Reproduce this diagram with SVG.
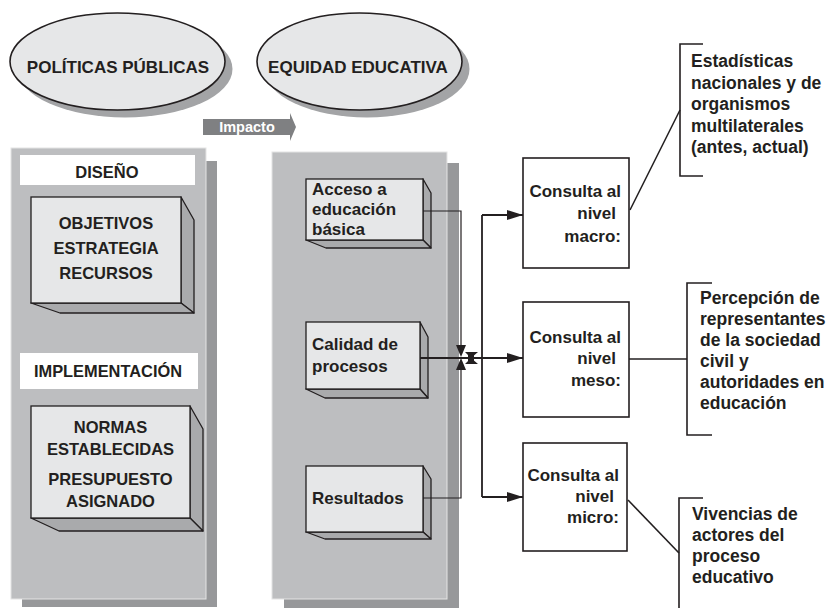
<svg xmlns="http://www.w3.org/2000/svg" width="826" height="608" viewBox="0 0 826 608">
<defs>
<style>
text{font-family:"Liberation Sans",Arial,sans-serif;font-weight:bold;fill:#231f20;}
.t16{font-size:16.5px;}
.t17{font-size:17px;}
.t175{font-size:17.5px;}
.c{text-anchor:middle;}
.r{text-anchor:end;}
.panel{fill:#bdbec0;stroke:#e4e4e4;stroke-width:1;}
.pshadow{fill:#97989a;}
.front{fill:#e6e7e8;stroke:#231f20;stroke-width:1.3;}
.side{fill:#a9aaac;stroke:#231f20;stroke-width:1.3;stroke-linejoin:round;}
.label{fill:#ffffff;}
.ell{fill:#e6e7e8;stroke:#231f20;stroke-width:1.6;}
.eshadow{fill:#a3a4a6;}
.box{fill:#ffffff;stroke:#231f20;stroke-width:1.6;}
.ln{fill:none;stroke:#231f20;stroke-width:1.2;}
.ln2{fill:none;stroke:#231f20;stroke-width:1.8;}
.br{fill:none;stroke:#231f20;stroke-width:1.6;}
.ah{fill:#231f20;}
</style>
<marker id="arr" markerUnits="userSpaceOnUse" markerWidth="16" markerHeight="10" refX="16" refY="5" orient="auto">
<path d="M0,0 L16,5 L0,10 z" fill="#231f20"/>
</marker>
</defs>

<g id="politicas">
<ellipse class="eshadow" cx="125" cy="69" rx="107.5" ry="48.5"/>
<ellipse class="ell" cx="117.5" cy="61.5" rx="107.5" ry="48.5"/>
<text class="t17 c" x="118" y="73">POLÍTICAS PÚBLICAS</text>
</g>

<g id="equidad">
<ellipse class="eshadow" cx="367" cy="69" rx="102.5" ry="48.5"/>
<ellipse class="ell" cx="359.5" cy="61.5" rx="102.5" ry="48.5"/>
<text class="t17 c" x="358" y="73">EQUIDAD EDUCATIVA</text>
</g>

<g id="impacto">
<path d="M203,119 L290,119 L290,113 L296,127 L290,141 L290,135 L203,135 z" fill="#7f8082"/>
<text x="247" y="132" style="font-size:14.5px;fill:#ffffff" class="c">Impacto</text>
</g>

<g id="panel-politicas">
<rect class="pshadow" x="22" y="161" width="195" height="446"/>
<rect class="panel" x="11" y="148" width="195" height="451"/>
</g>

<g id="diseno">
<rect class="label" x="20" y="155" width="175" height="30"/>
<text class="c" style="font-size:16.5px" x="107" y="178">DISEÑO</text>
</g>

<g id="objetivos">
<polygon class="side" points="181,197 194,220 194,313 181,303"/>
<polygon class="side" points="31,303 60,313 194,313 181,303"/>
<rect class="front" x="31" y="197" width="150" height="106"/>
<text class="t16 c" x="106" y="229">OBJETIVOS</text>
<text class="t16 c" x="106" y="254">ESTRATEGIA</text>
<text class="t16 c" x="106" y="279">RECURSOS</text>
</g>

<g id="implementacion">
<rect class="label" x="20" y="353" width="178" height="36"/>
<text class="c" style="font-size:16.4px" x="108" y="377">IMPLEMENTACIÓN</text>
</g>

<g id="normas">
<polygon class="side" points="190,406 203,429 203,531 190,518"/>
<polygon class="side" points="31,518 59,531 203,531 190,518"/>
<rect class="front" x="31" y="406" width="159" height="112"/>
<text class="t16 c" x="110.5" y="433">NORMAS</text>
<text class="t16 c" x="110.5" y="455">ESTABLECIDAS</text>
<text class="t16 c" x="110.5" y="485">PRESUPUESTO</text>
<text class="t16 c" x="110.5" y="507">ASIGNADO</text>
</g>

<g id="panel-equidad">
<rect class="pshadow" x="284" y="163" width="175" height="445"/>
<rect class="panel" x="272" y="152" width="175" height="447"/>
</g>

<g id="acceso">
<polygon class="side" points="423,179 431,193 431,248 423,240"/>
<polygon class="side" points="306,240 326,248 431,248 423,240"/>
<rect class="front" x="306" y="179" width="117" height="61"/>
<text class="t17" x="312" y="195">Acceso a</text>
<text class="t17" x="312" y="215">educación</text>
<text class="t17" x="312" y="235">básica</text>
</g>

<g id="calidad">
<polygon class="side" points="420,322 428,337 428,398 420,389"/>
<polygon class="side" points="306,389 325,398 428,398 420,389"/>
<rect class="front" x="306" y="322" width="114" height="67"/>
<text class="t17" x="312" y="350">Calidad de</text>
<text class="t17" x="312" y="372">procesos</text>
</g>

<g id="resultados">
<polygon class="side" points="423,466 431,479 431,539 423,532"/>
<polygon class="side" points="306,532 325,539 431,539 423,532"/>
<rect class="front" x="306" y="466" width="117" height="66"/>
<text class="t17" x="312" y="504">Resultados</text>
</g>

<g id="macro">
<rect class="box" x="523" y="158" width="106" height="110"/>
<text class="t17 r" x="621" y="197">Consulta al</text>
<text class="t17 r" x="616" y="219">nivel</text>
<text class="t17 r" x="621" y="242">macro:</text>
</g>

<g id="meso">
<rect class="box" x="523" y="302" width="106" height="115"/>
<text class="t17 r" x="621" y="343">Consulta al</text>
<text class="t17 r" x="616" y="364">nivel</text>
<text class="t17 r" x="621" y="386">meso:</text>
</g>

<g id="micro">
<rect class="box" x="523" y="443" width="104" height="108"/>
<text class="t17 r" x="619" y="481">Consulta al</text>
<text class="t17 r" x="614" y="502">nivel</text>
<text class="t17 r" x="619" y="523">micro:</text>
</g>

<g id="fuente-macro">
<path class="br" d="M703,44 L680,44 L680,176 L703,176"/>
<text class="t175" x="691" y="67">Estadísticas</text>
<text class="t175" x="691" y="89">nacionales y de</text>
<text class="t175" x="691" y="110">organismos</text>
<text class="t175" x="691" y="132">multilaterales</text>
<text class="t175" x="691" y="153">(antes, actual)</text>
</g>

<g id="fuente-meso">
<path class="br" d="M712,283 L687,283 L687,435 L712,435"/>
<text class="t175" x="700" y="304">Percepción de</text>
<text class="t175" x="700" y="325">representantes</text>
<text class="t175" x="700" y="346">de la sociedad</text>
<text class="t175" x="700" y="367">civil y</text>
<text class="t175" x="700" y="388">autoridades en</text>
<text class="t175" x="700" y="409">educación</text>
</g>

<g id="fuente-micro">
<path class="br" d="M703,498 L679,498 L679,608"/>
<text class="t175" x="692" y="520">Vivencias de</text>
<text class="t175" x="692" y="541">actores del</text>
<text class="t175" x="692" y="562">proceso</text>
<text class="t175" x="692" y="583">educativo</text>
</g>

<g id="connectors">
<path class="ln" d="M423,211 L461,211 L461,346"/>
<path class="ln" d="M423,498 L461,498 L461,369"/>
<polygon class="ah" points="456,345 466,345 461,357"/>
<polygon class="ah" points="456,370 466,370 461,358"/>
<path class="ln2" d="M420,358 L482,358"/>
<polygon class="ah" points="465,352 471,358 465,364 478,364 471,358 478,352"/>
<rect class="ah" x="468" y="355" width="6" height="6"/>
<path class="ln2" d="M482,215 L482,497"/>
<path class="ln2" d="M482,215 L523,215" marker-end="url(#arr)"/>
<path class="ln2" d="M482,358 L523,358" marker-end="url(#arr)"/>
<path class="ln2" d="M482,497 L523,497" marker-end="url(#arr)"/>
<path class="br" d="M630,210 L680,110"/>
<path class="br" d="M629,359 L687,359"/>
<path class="br" d="M628,500 L679,553"/>
</g>
</svg>
